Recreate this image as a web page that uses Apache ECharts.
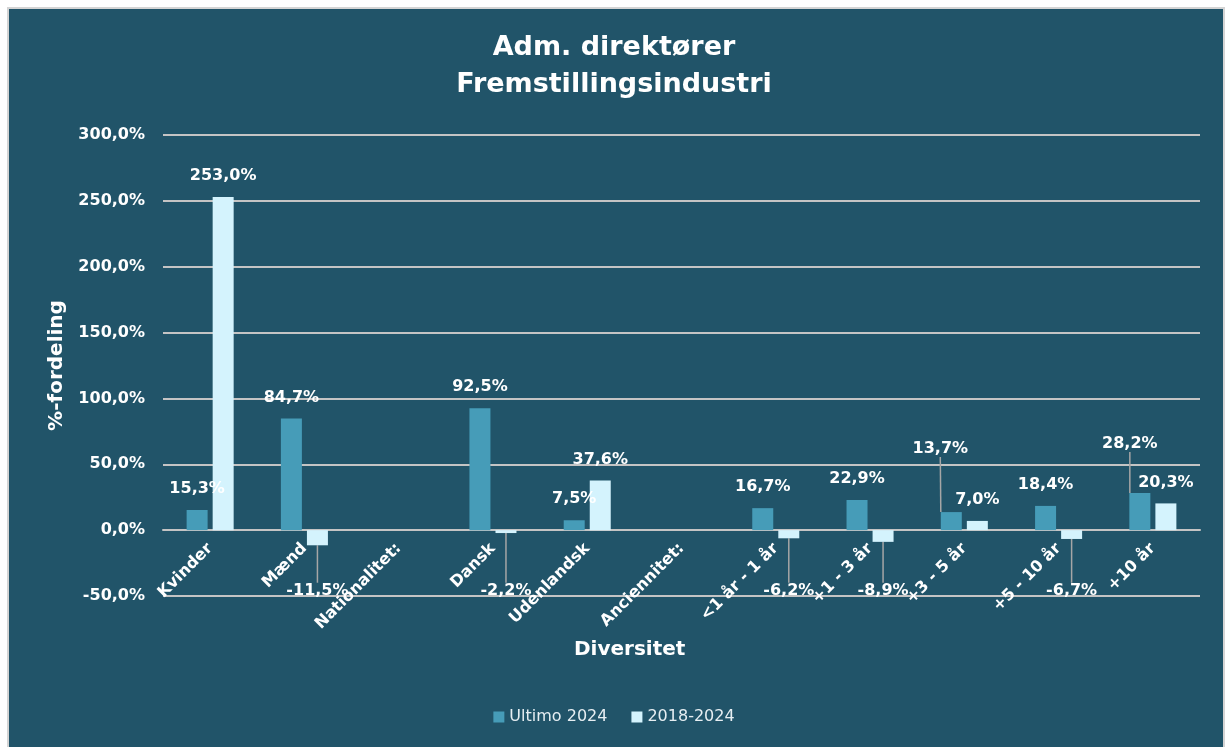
<!DOCTYPE html>
<html>
  <head>
    <meta charset="utf-8" />
    <title>Adm. direktører</title>
    <script src="https://cdn.jsdelivr.net/npm/echarts@6/dist/echarts.min.js"></script>
    <style>
      html, body { margin: 0; padding: 0; background: #fff; }
    </style>
  </head>
  <body>
    <div id="main" style="width: 1228px;height:747px;"></div>
    <script type="text/javascript">
      // data
      var categories = ['Kvinder', 'Mænd', 'Nationalitet:', 'Dansk', 'Udenlandsk', 'Anciennitet:',
        '<1 år - 1 år', '+1 - 3 år', '+3 - 5 år', '+5 - 10 år', '+10 år'];
      var ultimo2024 = [15.3, 84.7, null, 92.5, 7.5, null, 16.7, 22.9, 13.7, 18.4, 28.2];
      var change2018 = [253.0, -11.5, null, -2.2, 37.6, null, -6.2, -8.9, 7.0, -6.7, 20.3];
      var yTicks = [-50, 0, 50, 100, 150, 200, 250, 300];

      var bg = '#215469';
      var font = 'DejaVu Sans';
      var fmtPct = function (v) { return v.toFixed(1).replace('.', ',') + '%'; };

      // labels Excel pulled away from their bars (dx, dy in px)
      var movedUltimo = { 8: [-11, -42], 10: [-10, -28] };

      var leader = { show: true, lineStyle: { color: '#a6a6a6', width: 1.5 } };

      function makeItems(values, moved) {
        return values.map(function (v, i) {
          if (v === null) return null;
          var item = { value: v };
          if (v < 0 || (moved && moved[i])) item.labelLine = leader;
          if (v < 0) item.label = { position: 'bottom' };
          return item;
        });
      }

      var chartDom = document.getElementById('main');
      var myChart = echarts.init(chartDom);

      var labelStyle = {
        show: true,
        position: 'top',
        distance: 13,
        color: '#fff',
        fontFamily: font,
        fontWeight: 'bold',
        fontSize: 16,
        formatter: function (p) { return fmtPct(p.value); }
      };

      // negative labels sit just above the -50 line
      function negLayout(params) {
        var v = change2018[params.dataIndex];
        if (v === null || v >= 0) return {};
        var scale = params.rect.height / Math.abs(v);
        var target = params.rect.y + 46 * scale;
        return { dy: target - (params.labelRect.y + params.labelRect.height / 2) };
      }

      var option = {
        backgroundColor: '#fff',
        animation: false,
        title: {
          text: 'Adm. direktører\nFremstillingsindustri',
          left: 'center',
          top: 24,
          textStyle: { color: '#fff', fontFamily: font, fontWeight: 'bold', fontSize: 27, lineHeight: 37 }
        },
        graphic: [
          {
            type: 'rect', z: -10, silent: true,
            shape: { x: 8, y: 8, width: 1216, height: 745 },
            style: { fill: bg, stroke: '#d4d4d4', lineWidth: 2 }
          },
          {
            type: 'text', left: 574, top: 640,
            style: { text: 'Diversitet', fill: '#fff', font: 'bold 20px ' + font }
          }
        ],
        legend: {
          bottom: 17,
          left: 'center',
          itemWidth: 11,
          itemHeight: 11,
          itemGap: 24,
          icon: 'rect',
          textStyle: { color: '#e6eef2', fontFamily: font, fontSize: 16 },
          data: ['Ultimo 2024', '2018-2024']
        },
        grid: { left: 163, right: 28, top: 135, bottom: 151 },
        xAxis: {
          type: 'category',
          data: categories,
          offset: -66, // axis sits on the 0 line
          axisTick: { show: false },
          axisLine: { onZero: false, lineStyle: { color: '#c4c4c4', width: 2 } },
          axisLabel: {
            interval: 0, rotate: 45, margin: 16,
            color: '#fff', fontFamily: font, fontWeight: 'bold', fontSize: 16
          }
        },
        yAxis: {
          type: 'value',
          min: yTicks[0],
          max: yTicks[yTicks.length - 1],
          interval: 50,
          name: '%-fordeling',
          nameLocation: 'middle',
          nameGap: 96,
          nameTextStyle: { color: '#fff', fontFamily: font, fontWeight: 'bold', fontSize: 20 },
          axisLabel: {
            margin: 18, color: '#fff', fontFamily: font, fontWeight: 'bold', fontSize: 16,
            formatter: fmtPct
          },
          splitLine: { lineStyle: { color: '#c4c4c4', width: 2 } }
        },
        series: [
          {
            name: 'Ultimo 2024',
            type: 'bar',
            barWidth: 21,
            barGap: '24%',
            itemStyle: { color: '#469cb8' },
            label: labelStyle,
            labelLine: { show: false },
            labelLayout: function (params) {
              var m = movedUltimo[params.dataIndex];
              return m ? { dx: m[0], dy: m[1] } : {};
            },
            data: makeItems(ultimo2024, movedUltimo)
          },
          {
            name: '2018-2024',
            type: 'bar',
            barWidth: 21,
            itemStyle: { color: '#d4f3fd' },
            label: labelStyle,
            labelLine: { show: false },
            labelLayout: negLayout,
            data: makeItems(change2018, null)
          }
        ]
      };

      myChart.setOption(option);
    </script>
  </body>
</html>
